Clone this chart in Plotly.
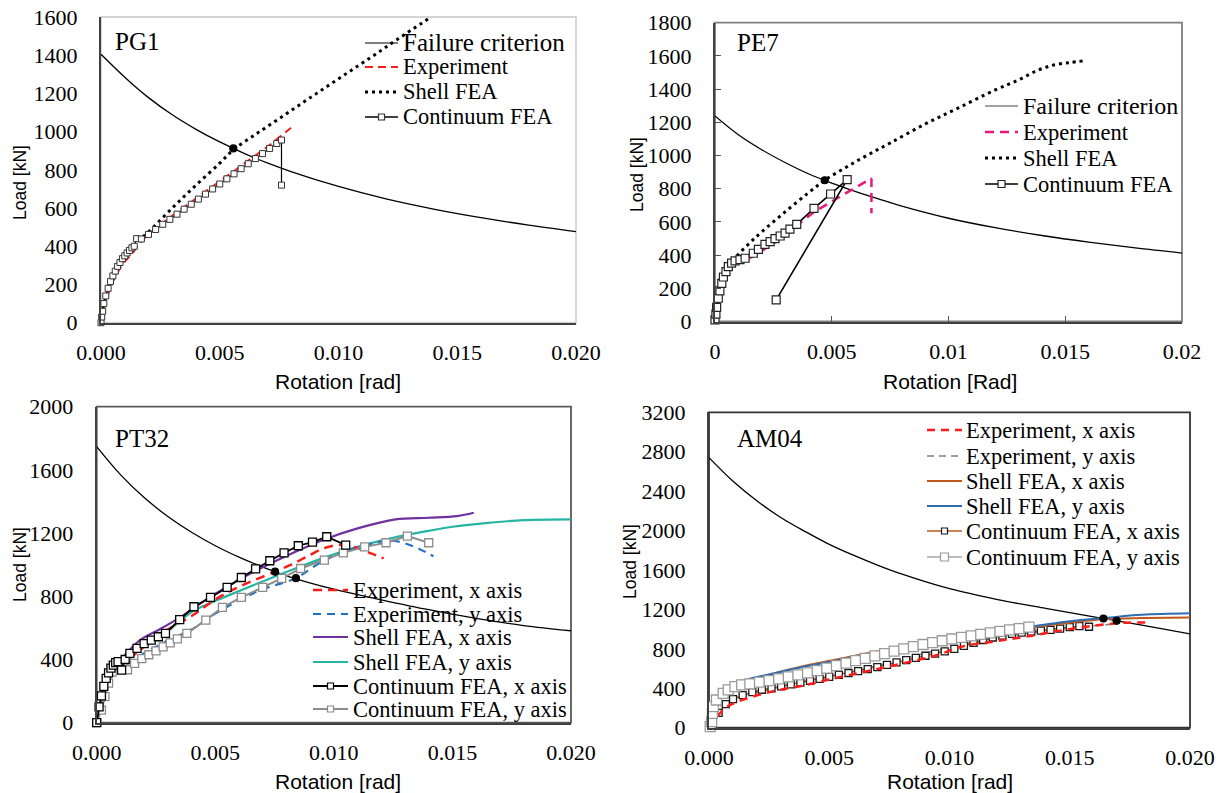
import plotly.graph_objects as go

W, H = 1226, 793
SERIF = "Liberation Serif, Times New Roman, serif"
SANS = "Liberation Sans, Arial, sans-serif"

# ---------------- PG1 ----------------
pg1_fail_x = [0, 0.001, 0.002, 0.003, 0.004, 0.005, 0.006, 0.007, 0.008, 0.010, 0.012, 0.014, 0.016, 0.018, 0.020]
pg1_fail_y = [1405, 1285, 1178, 1088, 1012, 946, 888, 836, 791, 713, 648, 595, 550, 511, 477]
pg1_exp_x = [0, 0.0001, 0.0003, 0.0005, 0.0008, 0.001, 0.0013, 0.0016, 0.002, 0.003, 0.004, 0.005, 0.006, 0.007, 0.0075, 0.008]
pg1_exp_y = [0, 60, 150, 215, 285, 320, 360, 410, 465, 560, 650, 742, 830, 920, 968, 1020]
pg1_shell_x = [0, 0.0001, 0.0003, 0.0006, 0.001, 0.0015, 0.002, 0.003, 0.004, 0.005, 0.0056, 0.0065, 0.0075,
               0.0085, 0.0095, 0.0105, 0.0115, 0.0125, 0.0139]
pg1_shell_y = [0, 80, 170, 260, 345, 420, 475, 600, 720, 835, 908, 985, 1068, 1152, 1235, 1318, 1400, 1485, 1600]
pg1_cont_x = [0, 0.00003, 0.00007, 0.00012, 0.0002, 0.0003, 0.0004, 0.0005, 0.0006, 0.0007, 0.0008, 0.0009,
              0.001, 0.0011, 0.0012, 0.0013, 0.0014, 0.0015, 0.0017, 0.002, 0.0023, 0.0026, 0.0029, 0.0032,
              0.0035, 0.0038, 0.0041, 0.0044, 0.0047, 0.005, 0.0053, 0.0056, 0.0059, 0.0062, 0.0065, 0.0068,
              0.0071, 0.0074, 0.0076, 0.0076]
pg1_cont_y = [0, 30, 60, 100, 140, 180, 215, 245, 270, 295, 315, 335, 350, 365, 378, 392, 400, 440, 438, 462,
              488, 515, 541, 568, 594, 620, 647, 673, 700, 726, 753, 779, 806, 832, 859, 885, 912, 938, 956, 720]
pg1_dot_x = [0.00557]
pg1_dot_y = [912]

# ---------------- PE7 ----------------
pe7_fail_x = [0, 0.001, 0.002, 0.003, 0.004, 0.005, 0.006, 0.007, 0.008, 0.010, 0.012, 0.014, 0.016, 0.018, 0.020]
pe7_fail_y = [1238, 1125, 1035, 958, 890, 834, 784, 738, 695, 622, 565, 518, 478, 443, 412]
pe7_exp_x = [0, 0.00005, 0.0001, 0.0002, 0.0003, 0.0004, 0.0005, 0.0006, 0.0008, 0.001, 0.0013, 0.0016, 0.002,
             0.0025, 0.003, 0.0036, 0.0043, 0.00535, 0.0061, 0.0067, 0.0067]
pe7_exp_y = [0, 50, 100, 170, 225, 270, 305, 330, 355, 365, 375, 390, 425, 470, 525, 592, 665, 752, 812, 862, 652]
pe7_shell_x = [0, 0.0001, 0.0003, 0.0005, 0.0007, 0.001, 0.0015, 0.002, 0.003, 0.004, 0.0047, 0.0056, 0.0065,
               0.0075, 0.009, 0.0104, 0.012, 0.013, 0.0138, 0.0145, 0.0152, 0.0158]
pe7_shell_y = [0, 90, 200, 290, 350, 405, 475, 540, 660, 775, 851, 928, 1000, 1075, 1190, 1285, 1395, 1455,
               1512, 1545, 1560, 1570]
pe7_cont_x = [0, 0.00004, 0.00007, 0.00014, 0.00021, 0.00029, 0.00036, 0.00047, 0.00057, 0.00071, 0.00086,
              0.00107, 0.00129, 0.00164, 0.00186, 0.00214, 0.00236, 0.00257, 0.00279, 0.003, 0.00321, 0.0035,
              0.00424, 0.00495, 0.00566, 0.00262]
pe7_cont_y = [10, 45, 85, 140, 185, 230, 268, 300, 330, 352, 365, 373, 381, 411, 435, 465, 481, 499, 515, 532,
              556, 585, 682, 768, 855, 130]
pe7_dot_x = [0.0047]
pe7_dot_y = [851]

# ---------------- PT32 ----------------
pt32_fail_x = [0, 0.001, 0.002, 0.003, 0.004, 0.005, 0.006, 0.007, 0.008, 0.010, 0.012, 0.014, 0.016, 0.018, 0.020]
pt32_fail_y = [1747, 1570, 1425, 1305, 1205, 1120, 1048, 985, 930, 845, 778, 715, 660, 615, 582]
pt32_expx_x = [0, 0.0001, 0.0003, 0.0005, 0.0008, 0.001, 0.0015, 0.002, 0.003, 0.004, 0.005, 0.006, 0.00752,
               0.0082, 0.0089, 0.0096, 0.0103, 0.011, 0.0116, 0.0121]
pt32_expx_y = [0, 80, 200, 280, 340, 365, 420, 480, 590, 675, 780, 860, 956, 1000, 1054, 1105, 1125, 1105,
               1070, 1040]
pt32_expy_x = [0, 0.0001, 0.0003, 0.0006, 0.001, 0.0015, 0.002, 0.003, 0.004, 0.005, 0.006, 0.007, 0.0084,
               0.0095, 0.0105, 0.0115, 0.0124, 0.013, 0.0136, 0.0142]
pt32_expy_y = [0, 80, 190, 300, 350, 390, 440, 520, 590, 690, 775, 845, 915, 1020, 1085, 1130, 1152, 1135,
               1100, 1053]
pt32_shx_x = [0, 0.0001, 0.0003, 0.0005, 0.0008, 0.0012, 0.0018, 0.0027, 0.0035, 0.0046, 0.0055, 0.0065,
              0.0075, 0.0085, 0.0096, 0.011, 0.0126, 0.014, 0.0152, 0.0159]
pt32_shx_y = [0, 100, 220, 300, 370, 430, 520, 595, 665, 777, 860, 945, 1020, 1090, 1160, 1230, 1287, 1297,
              1308, 1329]
pt32_shy_x = [0, 0.0001, 0.0003, 0.0005, 0.0008, 0.0013, 0.0018, 0.0027, 0.004, 0.0046, 0.0053, 0.0066,
              0.0084, 0.0095, 0.011, 0.0125, 0.0138, 0.015, 0.0166, 0.018, 0.02]
pt32_shy_y = [0, 90, 210, 290, 360, 418, 470, 545, 700, 745, 790, 870, 977, 1040, 1114, 1170, 1209, 1240,
              1266, 1282, 1287]
pt32_cx_x = [0, 0.0001, 0.0002, 0.0003, 0.0004, 0.0005, 0.0006, 0.0007, 0.0008, 0.0009, 0.00105, 0.0012,
             0.0014, 0.0017, 0.002, 0.0023, 0.0026, 0.0029, 0.0035, 0.0041, 0.0048, 0.0055, 0.0061, 0.0067,
             0.0073, 0.0079, 0.0085, 0.0091, 0.0097, 0.0105]
pt32_cx_y = [0, 100, 170, 230, 280, 315, 345, 365, 380, 386, 333, 400, 439, 470, 500, 523, 544, 565, 653, 734,
             793, 856, 919, 974, 1025, 1075, 1120, 1143, 1177, 1124]
pt32_cy_x = [0, 0.0002, 0.00035, 0.0005, 0.00065, 0.0008, 0.0009, 0.0011, 0.0013, 0.0016, 0.0019, 0.0022,
             0.0025, 0.0028, 0.0031, 0.0034, 0.0038, 0.0046, 0.0053, 0.0061, 0.007, 0.0078, 0.0086, 0.0096,
             0.0104, 0.0113, 0.0122, 0.0131, 0.014]
pt32_cy_y = [0, 80, 165, 250, 320, 360, 378, 350, 335, 375, 405, 430, 455, 480, 505, 530, 565, 649, 730, 793,
             856, 913, 976, 1029, 1075, 1113, 1139, 1181, 1139]
pt32_dot_x = [0.00752, 0.0084]
pt32_dot_y = [956, 915]

# ---------------- AM04 ----------------
am04_fail_x = [0, 0.001, 0.002, 0.003, 0.004, 0.005, 0.006, 0.007, 0.008, 0.010, 0.012, 0.014, 0.016, 0.018, 0.020]
am04_fail_y = [2740, 2500, 2300, 2130, 1990, 1860, 1750, 1650, 1560, 1410, 1300, 1210, 1125, 1040, 951]
am04_expx_x = [0, 0.0003, 0.00066, 0.0012, 0.0026, 0.004, 0.0054, 0.0068, 0.0082, 0.0095, 0.0105, 0.0118,
               0.0132, 0.0146, 0.0165, 0.0174, 0.0182]
am04_expx_y = [0, 100, 197, 265, 366, 433, 511, 585, 660, 738, 822, 873, 924, 985, 1049, 1066, 1066]
am04_expy_x = [0, 0.0003, 0.0006, 0.001, 0.002, 0.004, 0.0058, 0.0087, 0.011, 0.013, 0.015, 0.0165, 0.017]
am04_expy_y = [0, 150, 260, 300, 360, 470, 553, 738, 870, 950, 1010, 1045, 1056]
am04_shx_x = [0, 0.0003, 0.0007, 0.0013, 0.0026, 0.004, 0.0054, 0.0068, 0.0082, 0.0095, 0.0106, 0.012, 0.0135,
              0.015, 0.0164, 0.018, 0.02]
am04_shx_y = [0, 220, 370, 455, 545, 628, 697, 765, 828, 885, 935, 980, 1022, 1065, 1100, 1112, 1117]
am04_shy_x = [0, 0.0003, 0.0007, 0.0013, 0.0026, 0.004, 0.0054, 0.0068, 0.0082, 0.0095, 0.0106, 0.012, 0.0135,
              0.015, 0.0164, 0.018, 0.02]
am04_shy_y = [0, 230, 380, 467, 545, 620, 687, 755, 822, 883, 940, 985, 1030, 1080, 1112, 1145, 1160]
am04_cx_x = [0.0004, 0.0007, 0.001, 0.0014, 0.0018, 0.0022, 0.0026, 0.003, 0.0034, 0.0038, 0.0042, 0.0046,
             0.005, 0.0054, 0.0058, 0.0062, 0.0066, 0.007, 0.0074, 0.0078, 0.0082, 0.0086, 0.009, 0.0094, 0.0098,
             0.0102, 0.0106, 0.011, 0.0114, 0.0118, 0.0122, 0.0126, 0.013, 0.0134, 0.0138, 0.0142, 0.0146,
             0.015, 0.0154, 0.0158]
am04_cx_y = [150, 240, 290, 330, 360, 385, 400, 420, 440, 458, 476, 495, 515, 535, 555, 575, 595, 615, 638, 662,
             685, 708, 730, 752, 775, 800, 830, 860, 890, 915, 935, 952, 965, 975, 985, 993, 1005, 1020, 1030, 1024]
am04_cy_x = [0.00005, 0.00011, 0.00014, 0.00018, 0.00031, 0.00059, 0.0008, 0.00108, 0.00136, 0.0017, 0.0021,
             0.0025, 0.0029, 0.0033, 0.0037, 0.0041, 0.0045, 0.0049, 0.0053, 0.0057, 0.0061, 0.0065, 0.0069,
             0.0073, 0.0077, 0.0081, 0.0085, 0.0089, 0.0093, 0.0097, 0.0101, 0.0105, 0.0109, 0.0113, 0.0117,
             0.0121, 0.0125, 0.0129, 0.0133]
am04_cy_y = [10, 61, 146, 213, 281, 349, 383, 417, 434, 445, 462, 478, 495, 515, 535, 556, 580, 605, 630, 655,
             680, 704, 728, 752, 776, 800, 822, 844, 864, 882, 900, 916, 932, 947, 962, 977, 992, 1006, 1020]
am04_dot_x = [0.0164, 0.01695]
am04_dot_y = [1108, 1085]

# tick labels
x_ticks = [0, 0.005, 0.010, 0.015, 0.020]
x_text_3dp = ["0.000", "0.005", "0.010", "0.015", "0.020"]
x_text_short = ["0", "0.005", "0.01", "0.015", "0.02"]

# plot-area boxes in pixels: left, top, right, bottom
BOX = {
    1: (101, 17, 576, 322.7),
    2: (715, 22.7, 1182, 321.5),
    3: (96.7, 406.7, 571, 722.7),
    4: (709, 412.3, 1190, 727.7),
}
YMAX = {1: 1600, 2: 1800, 3: 2000, 4: 3200}
YSTEP = {1: 200, 2: 200, 3: 400, 4: 400}


def fx(px):
    return px / W


def fy(py):
    return 1 - py / H


fig = go.Figure()


def add(panel, x, y, color, width=1.5, dash="solid", shape="linear", symbol=None, msize=7,
        mfill="white", mline=None, mlw=1.2, mode=None):
    suffix = "" if panel == 1 else str(panel)
    kw = dict(x=x, y=y, xaxis="x" + suffix, yaxis="y" + suffix, showlegend=False,
              hoverinfo="skip", cliponaxis=False)
    if mode == "markers":
        kw["mode"] = "markers"
        kw["marker"] = dict(symbol=symbol, size=msize, color=mfill,
                            line=dict(color=mline or color, width=mlw))
    elif symbol:
        kw["mode"] = "lines+markers"
        kw["line"] = dict(color=color, width=width, dash=dash, shape=shape)
        kw["marker"] = dict(symbol=symbol, size=msize, color=mfill,
                            line=dict(color=mline or color, width=mlw))
    else:
        kw["mode"] = "lines"
        kw["line"] = dict(color=color, width=width, dash=dash, shape=shape)
    fig.add_trace(go.Scatter(**kw))


DOT = "3px,4px"
RED = "#ff1a1a"

# PG1
add(1, pg1_fail_x, pg1_fail_y, "black", 1.3, shape="spline")
add(1, pg1_shell_x, pg1_shell_y, "black", 3, dash=DOT, shape="spline")
add(1, pg1_exp_x, pg1_exp_y, RED, 2, dash="8px,5px")
add(1, pg1_cont_x, pg1_cont_y, "black", 1.2, symbol="square", msize=6, mline="#333333", mlw=1)
add(1, pg1_dot_x, pg1_dot_y, "black", mode="markers", symbol="circle", msize=7, mfill="black")

# PE7
MAG = "#e8177d"
add(2, pe7_fail_x, pe7_fail_y, "black", 1.3, shape="spline")
add(2, pe7_shell_x, pe7_shell_y, "black", 3, dash=DOT, shape="spline")
add(2, pe7_exp_x, pe7_exp_y, MAG, 2.5, dash="9px,6px")
add(2, pe7_cont_x, pe7_cont_y, "black", 1.6, symbol="square", msize=8, mline="#222222", mlw=1.2)
add(2, pe7_dot_x, pe7_dot_y, "black", mode="markers", symbol="circle", msize=7, mfill="black")

# PT32
PURPLE = "#7030a0"
TEAL = "#26b5a2"
BLUE = "#1f72c4"
GRAY = "#8c8c8c"
add(3, pt32_fail_x, pt32_fail_y, "black", 1.3, shape="spline")
add(3, pt32_shy_x, pt32_shy_y, TEAL, 2.2, shape="spline")
add(3, pt32_shx_x, pt32_shx_y, PURPLE, 2.2, shape="spline")
add(3, pt32_expy_x, pt32_expy_y, BLUE, 2.2, dash="8px,6px", shape="spline")
add(3, pt32_expx_x, pt32_expx_y, RED, 2.5, dash="9px,6px", shape="spline")
add(3, pt32_cy_x, pt32_cy_y, GRAY, 2, symbol="square", msize=8, mline=GRAY, mlw=1.3)
add(3, pt32_cx_x, pt32_cx_y, "black", 1.8, symbol="square", msize=8, mline="black", mlw=1.3)
add(3, pt32_dot_x, pt32_dot_y, "black", mode="markers", symbol="circle", msize=7, mfill="black")

# AM04
BROWN = "#c0581a"
BLUE2 = "#2e6db4"
LGRAY = "#a6a6a6"
add(4, am04_fail_x, am04_fail_y, "black", 1.3, shape="spline")
add(4, am04_expy_x, am04_expy_y, "#808080", 1.6, dash="7px,5px", shape="spline")
add(4, am04_cx_x, am04_cx_y, BROWN, 1.6, symbol="square", msize=7, mline="#1a1a1a", mlw=1.3)
add(4, am04_expx_x, am04_expx_y, RED, 2.5, dash="8px,6px", shape="spline")
add(4, am04_shx_x, am04_shx_y, BROWN, 2, shape="spline")
add(4, am04_shy_x, am04_shy_y, BLUE2, 2, shape="spline")
add(4, am04_cy_x, am04_cy_y, LGRAY, 1.5, symbol="square", msize=10, mline="#9a9a9a", mlw=1.3)
add(4, am04_dot_x, am04_dot_y, "black", mode="markers", symbol="circle", msize=7, mfill="black")

# ---------------- axes ----------------
layout = dict(width=W, height=H, margin=dict(l=0, r=0, t=0, b=0, autoexpand=False),
              paper_bgcolor="white", plot_bgcolor="white", showlegend=False)

shapes = []
annotations = []

for p, (l, t, r, b) in BOX.items():
    suffix = "" if p == 1 else str(p)
    xt = x_text_short if p == 2 else x_text_3dp
    inside = p == 2
    layout["xaxis" + suffix] = dict(
        domain=[fx(l), fx(r)], range=[0, 0.02], anchor="y" + suffix, automargin=False,
        showgrid=False, zeroline=False, showline=True, linecolor="#404040", linewidth=2,
        tickmode="array", tickvals=x_ticks, ticktext=xt,
        ticks="inside" if inside else "", ticklen=6, tickcolor="#555555",
        tickfont=dict(family=SERIF, size=22, color="black"), ticklabelstandoff=9,
    )
    yv = list(range(0, YMAX[p] + 1, YSTEP[p]))
    layout["yaxis" + suffix] = dict(
        domain=[fy(b), fy(t)], range=[0, YMAX[p]], anchor="x" + suffix, automargin=False,
        showgrid=False, zeroline=False, showline=True, linecolor="#404040", linewidth=2,
        tickmode="array", tickvals=yv, ticktext=[str(v) for v in yv],
        ticks="inside" if inside else "", ticklen=6, tickcolor="#555555",
        tickfont=dict(family=SERIF, size=22, color="black"), ticklabelstandoff=17,
    )
    frame_col = {1: "#d4d4d4", 2: "#7f7f7f", 3: "#595959", 4: "#333333"}[p]
    shapes.append(dict(type="rect", xref="paper", yref="paper", x0=fx(l), x1=fx(r), y0=fy(b), y1=fy(t),
                       line=dict(color=frame_col, width=1.8), layer="below"))

# axis titles
xt_titles = [("Rotation [rad]", 338, 381), ("Rotation [Rad]", 950, 381),
             ("Rotation [rad]", 338, 781), ("Rotation [rad]", 950, 781)]
for txt, cx, cy in xt_titles:
    annotations.append(dict(text=txt, x=fx(cx), y=fy(cy), xref="paper", yref="paper", showarrow=False,
                            xanchor="center", yanchor="middle", font=dict(family=SANS, size=21, color="black")))
yt_titles = [(20, 183), (637, 175), (20, 565), (630, 562)]
for cx, cy in yt_titles:
    annotations.append(dict(text="Load [kN]", x=fx(cx), y=fy(cy), xref="paper", yref="paper", showarrow=False,
                            textangle=-90, xanchor="center", yanchor="middle",
                            font=dict(family=SANS, size=17.5, color="black")))

# panel names
for txt, lx, cy in [("PG1", 113, 41), ("PE7", 735, 43), ("PT32", 113, 438), ("AM04", 735, 438)]:
    annotations.append(dict(text=txt, x=fx(lx), y=fy(cy), xref="paper", yref="paper", showarrow=False,
                            xanchor="left", yanchor="middle", font=dict(family=SERIF, size=25, color="black")))


# ---------------- legends ----------------
def legend(x0, x1, tx, rows):
    for label, cy, size, style in rows:
        kind = style[0]
        if kind == "line":
            _, col, w, dash = style
            shapes.append(dict(type="line", xref="paper", yref="paper", x0=fx(x0), x1=fx(x1),
                               y0=fy(cy), y1=fy(cy), line=dict(color=col, width=w, dash=dash)))
        else:
            _, col, w, mcol, ms, mfill = style
            shapes.append(dict(type="line", xref="paper", yref="paper", x0=fx(x0), x1=fx(x1),
                               y0=fy(cy), y1=fy(cy), line=dict(color=col, width=w)))
            mx = (x0 + x1) / 2
            shapes.append(dict(type="rect", xref="paper", yref="paper", x0=fx(mx - ms / 2), x1=fx(mx + ms / 2),
                               y0=fy(cy + ms / 2), y1=fy(cy - ms / 2), fillcolor=mfill,
                               line=dict(color=mcol, width=1.2)))
        annotations.append(dict(text=label, x=fx(tx), y=fy(cy), xref="paper", yref="paper", showarrow=False,
                                xanchor="left", yanchor="middle", font=dict(family=SERIF, size=size, color="black")))


legend(365, 398, 401, [
    ("Failure criterion", 43, 25, ("line", "black", 1.2, "solid")),
    ("Experiment", 67, 22.5, ("line", RED, 2, "8px,5px")),
    ("Shell FEA", 92, 22.5, ("line", "black", 3, DOT)),
    ("Continuum FEA", 117, 22.5, ("marker", "black", 1.5, "#333333", 6, "white")),
])
legend(985, 1018, 1021, [
    ("Failure criterion", 106, 24, ("line", "#444444", 1.2, "solid")),
    ("Experiment", 132, 22.5, ("line", MAG, 2.5, "9px,6px")),
    ("Shell FEA", 158, 22.5, ("line", "black", 3, DOT)),
    ("Continuum FEA", 184, 22.5, ("marker", "black", 1.6, "#222222", 7, "white")),
])
legend(313, 348, 351, [
    ("Experiment, x axis", 590, 22.5, ("line", RED, 2.5, "9px,6px")),
    ("Experiment, y axis", 614, 22.5, ("line", BLUE, 2.2, "8px,6px")),
    ("Shell FEA, x axis", 637, 22.5, ("line", PURPLE, 2.2, "solid")),
    ("Shell FEA, y axis", 662, 22.5, ("line", TEAL, 2.2, "solid")),
    ("Continuum FEA, x axis", 686, 22.5, ("marker", "black", 1.8, "black", 6, "white")),
    ("Continuum FEA, y axis", 709, 22.5, ("marker", GRAY, 2, GRAY, 6, "white")),
])
legend(927, 962, 964, [
    ("Experiment, x axis", 430, 22.5, ("line", RED, 2.5, "8px,6px")),
    ("Experiment, y axis", 456, 22.5, ("line", "#808080", 1.6, "7px,5px")),
    ("Shell FEA, x axis", 481, 22.5, ("line", BROWN, 2, "solid")),
    ("Shell FEA, y axis", 506, 22.5, ("line", BLUE2, 2, "solid")),
    ("Continuum FEA, x axis", 531, 22.5, ("marker", BROWN, 1.6, "#1a1a1a", 6, "white")),
    ("Continuum FEA, y axis", 557, 22.5, ("marker", LGRAY, 1.5, "#9a9a9a", 8, "white")),
])

layout["shapes"] = shapes
layout["annotations"] = annotations
fig.update_layout(**layout)
fig.write_html("out.html")
